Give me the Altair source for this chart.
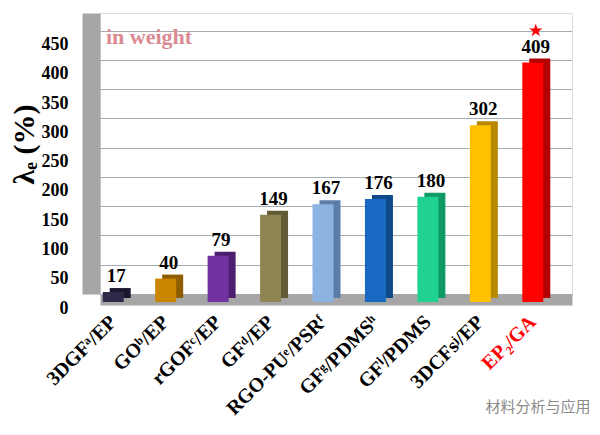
import altair as alt
import pandas as pd

categories = ["3DGFᵃ/EP", "GOᵇ/EP", "rGOFᶜ/EP", "GFᵈ/EP", "RGO-PUᵉ/PSRᶠ",
              "GFᵍ/PDMSʰ", "GFⁱ/PDMS", "3DCFsʲ/EP", "EP₂/GA"]
values = [17, 40, 79, 149, 167, 176, 180, 302, 409]
front_colors = ["#2f2848", "#cc8500", "#7232a2", "#8f8552", "#8db3e2",
                "#1769c2", "#1fd290", "#ffc000", "#ff0000"]
side_colors = ["#1c1830", "#8e5d00", "#4c1f6e", "#625a36", "#5b7ea8",
               "#0e4a8a", "#0f9965", "#b88900", "#b30000"]
y_ticks = [0, 50, 100, 150, 200, 250, 300, 350, 400, 450]
star_for = ["EP₂/GA"]

df = pd.DataFrame({"cat": categories, "val": values,
                   "front": front_colors, "side": side_colors})
df["star"] = [1 if c in star_for else 0 for c in categories]

SERIF = "Liberation Serif"
STAR = ("M0,-1L0.2245,-0.309L0.951,-0.309L0.363,0.118L0.588,0.809L0,0.382"
        "L-0.588,0.809L-0.363,0.118L-0.951,-0.309L-0.2245,-0.309Z")

x_enc = alt.X("cat:N", sort=categories,
              scale=alt.Scale(paddingInner=0.6, paddingOuter=0.3),
              axis=alt.Axis(title="材料分析与应用", titleFont="Noto Sans CJK SC",
                            titleFontWeight="normal", titleFontSize=15,
                            titleColor="#8a8a8a", titleAlign="right",
                            titleBaseline="middle", titleX=490, titleY=107,
                            labelAngle=-45, labelAlign="right", labelBaseline="middle",
                            labelFont=SERIF, labelFontWeight="bold", labelFontSize=20,
                            labelColor=alt.condition("datum.value == 'EP₂/GA'",
                                                     alt.value("#ff0000"), alt.value("#000000")),
                            labelOffset=-13, labelPadding=19, labelOverlap=False,
                            ticks=False, tickSize=0, orient="bottom",
                            domainColor="#a6a6a6", domainWidth=11, offset=5.5))
y_scale = alt.Scale(domain=[0, 480], nice=False)
y_enc = alt.Y("val:Q", scale=y_scale,
              axis=alt.Axis(title="λₑ (%)", titleFont=SERIF, titleFontWeight="bold",
                            titleFontSize=30, titleColor="#000000", titleAngle=-90,
                            titleBaseline="middle", titleAlign="center",
                            titleX=-67, titleY=131,
                            values=y_ticks, tickCount=10, labelFont=SERIF,
                            labelFontWeight="bold",
                            labelFontSize=18, labelColor="#000000", labelOverlap=False,
                            labelOffset=14, labelPadding=23, ticks=False, tickSize=0,
                            domainColor="#a6a6a6", domainWidth=18, offset=9,
                            grid=True, gridColor="#a3abb3", gridWidth=1))

base = alt.Chart(df)

side = base.mark_bar(size=21, xOffset=-6, yOffset=4).encode(
    x=x_enc, y=y_enc, color=alt.Color("side:N", scale=None))
front = base.mark_bar(size=21, xOffset=-13, yOffset=8).encode(
    x=x_enc, y=y_enc, color=alt.Color("front:N", scale=None))
labels = base.mark_text(font=SERIF, fontWeight="bold", fontSize=19, color="#000000",
                        baseline="bottom", dx=-10, dy=2).encode(
    x=x_enc, y=y_enc, text="val:Q")
stars = base.mark_point(
    shape=STAR, filled=True, color="#ff0000", size=200, strokeWidth=0,
    xOffset=-10, yOffset=-24).encode(
    x=x_enc, y=y_enc,
    opacity=alt.Opacity("star:Q", scale=None, legend=None))

chart = alt.layer(side, front, labels, stars).properties(
    width=472, height=281,
    title=alt.TitleParams("in weight", anchor="start", font=SERIF,
                          fontWeight="bold", fontSize=22, color="#d98a92", dx=97, dy=40),
    autosize=alt.AutoSizeParams(type="none"),
    padding={"left": 92, "top": 5, "right": 20, "bottom": 125},
).configure_view(fill="#e5eff8", stroke=None).configure(background="#ffffff")

chart.save("out.html", embed_options={"renderer": "svg", "actions": False})
